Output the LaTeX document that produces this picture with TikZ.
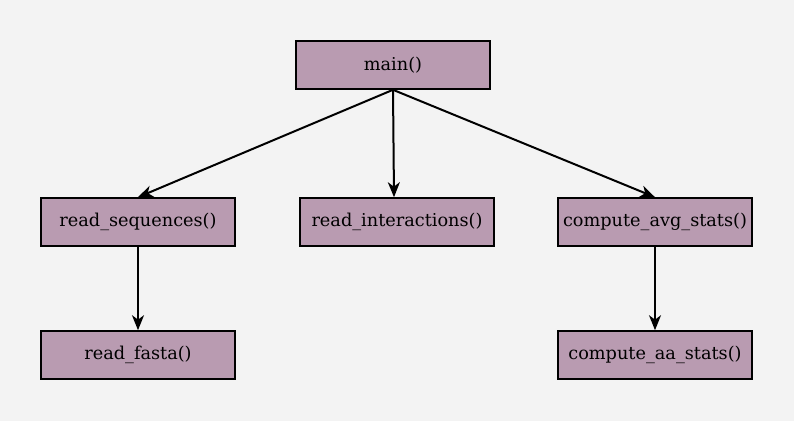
\documentclass[tikz,border=0pt]{standalone}
\usepackage{fontspec}
\setmainfont{DejaVu Serif}
\usetikzlibrary{arrows.meta}
\definecolor{bg}{HTML}{F3F3F3}
\definecolor{boxfill}{HTML}{B99BB1}
\begin{document}
\begin{tikzpicture}[x=1pt,y=-1pt,
  fn/.style={draw=black,line width=1.6pt,fill=boxfill,minimum width=194pt,minimum height=48pt,inner sep=0pt,font=\fontsize{17.7}{20}\selectfont},
  edge/.style={draw=black,line width=2pt,-{Stealth[length=15pt,width=12pt,inset=4.5pt]}}]
\fill[bg] (0,0) rectangle (794,421);
\useasboundingbox (0,0) rectangle (794,421);
\node[fn] (main) at (393,65) {main()};
\node[fn] (rs) at (138,222) {read\_sequences()};
\node[fn] (ri) at (397,222) {read\_interactions()};
\node[fn] (cas) at (655,222) {compute\_avg\_stats()};
\node[fn] (rf) at (138,355) {read\_fasta()};
\node[fn] (caa) at (655,355) {compute\_aa\_stats()};
\draw[edge] (main.south) -- (rs.north);
\draw[edge] (main.south) -- (ri.north -| 394,0);
\draw[edge] (main.south) -- (cas.north);
\draw[edge] (rs.south) -- (rf.north);
\draw[edge] (cas.south) -- (caa.north);
\end{tikzpicture}
\end{document}
